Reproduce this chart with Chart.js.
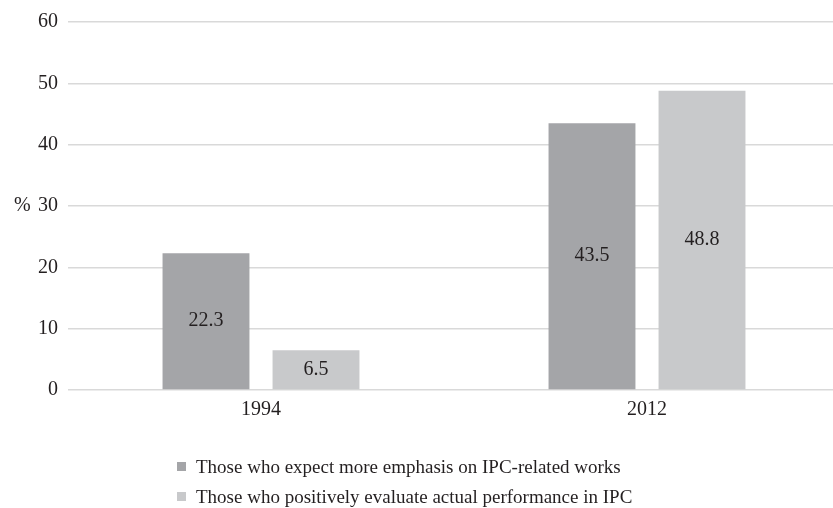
<!DOCTYPE html>
<html lang="en">
<head>
  <meta charset="UTF-8">
  <title>IPC emphasis and evaluation, 1994 and 2012</title>
  <script src="https://cdn.jsdelivr.net/npm/chart.js"></script>
  <style>
    html, body {
      margin: 0;
      padding: 0;
      background: #fff;
      overflow: hidden;
    }

    /* the plot runs a few pixels past the right edge of the page */
    #chart-container {
      width: 840px;
      height: 508px;
    }
  </style>
</head>
<body>

<div id="chart-container">
  <canvas id="chart"></canvas>
</div>

<script>
  // Survey years and the two series (percent)
  const years = ['1994', '2012'];
  const expectMoreEmphasis = [22.3, 43.5];
  const positiveEvaluation = [6.5, 48.8];
  const seriesNames = [
    'Those who expect more emphasis on IPC-related works',
    'Those who positively evaluate actual performance in IPC'
  ];
  const yTicks = [0, 10, 20, 30, 40, 50, 60];

  const serif = "'Liberation Serif', 'Times New Roman', serif";
  const textColor = '#231f20';

  // Prints each value in the middle of its bar
  const barValues = {
    id: 'barValues',
    afterDatasetsDraw(chart) {
      const ctx = chart.ctx;
      ctx.save();
      ctx.font = '20px ' + serif;
      ctx.fillStyle = textColor;
      ctx.textAlign = 'center';
      ctx.textBaseline = 'middle';
      chart.data.datasets.forEach((ds, i) => {
        chart.getDatasetMeta(i).data.forEach((bar, j) => {
          const mid = (bar.y + bar.base) / 2;
          ctx.fillText(ds.data[j].toFixed(1), bar.x, mid);
        });
      });
      ctx.restore();
    }
  };

  // "%" beside the value axis, and the stacked legend under the plot
  const extras = {
    id: 'extras',
    afterDraw(chart) {
      const ctx = chart.ctx;
      const y = chart.scales.y;
      ctx.save();
      ctx.fillStyle = textColor;
      ctx.font = '20px ' + serif;
      ctx.textBaseline = 'middle';
      ctx.textAlign = 'left';
      ctx.fillText('%', 14, y.getPixelForValue(30));

      ctx.font = '19px ' + serif;
      const rows = [467, 497];
      chart.data.datasets.forEach((ds, i) => {
        ctx.fillStyle = ds.backgroundColor;
        ctx.fillRect(177, rows[i] - 5, 9, 9);
        ctx.fillStyle = textColor;
        ctx.fillText(ds.label, 196, rows[i] + 1);
      });
      ctx.restore();
    }
  };

  const ctx = document.getElementById('chart').getContext('2d');
  const chart = new Chart(ctx, {
    type: 'bar',
    data: {
      labels: years,
      datasets: [{
        label: seriesNames[0],
        data: expectMoreEmphasis,
        backgroundColor: '#a4a5a8'
      }, {
        label: seriesNames[1],
        data: positiveEvaluation,
        backgroundColor: '#c8c9cb'
      }]
    },
    options: {
      responsive: true,
      maintainAspectRatio: false,
      animation: false,
      datasets: {
        bar: {
          categoryPercentage: 0.57,
          barPercentage: 0.79
        }
      },
      layout: {
        padding: { top: 10, left: 28, right: 0, bottom: 86 }
      },
      plugins: {
        legend: { display: false },
        tooltip: { enabled: false }
      },
      scales: {
        x: {
          grid: { display: false },
          border: { display: false },
          ticks: {
            color: textColor,
            font: { family: serif, size: 20 },
            padding: 0
          }
        },
        y: {
          min: 0,
          max: 60,
          afterBuildTicks(axis) {
            axis.ticks = yTicks.map(v => ({ value: v }));
          },
          grid: {
            color: '#d9d9d9',
            lineWidth: 1.5,
            drawTicks: false
          },
          border: { display: false },
          ticks: {
            color: textColor,
            font: { family: serif, size: 20 },
            padding: 10
          }
        }
      }
    },
    plugins: [barValues, extras]
  });
</script>

</body>
</html>
